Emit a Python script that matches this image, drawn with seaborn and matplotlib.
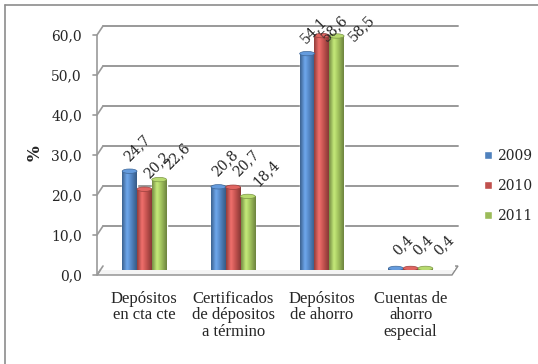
import numpy as np
import pandas as pd
import matplotlib
matplotlib.use('Agg')
import matplotlib.pyplot as plt
import matplotlib.transforms as mtrans
from matplotlib.colors import LinearSegmentedColormap, to_rgb
from matplotlib.patches import Polygon, Ellipse
from matplotlib.lines import Line2D
import seaborn as sns

sns.set_style('white')
plt.rcParams['font.family'] = ['DejaVu Serif']

# data
categories = ['Depósitos\nen cta cte', 'Certificados\nde dépositos\na término',
              'Depósitos\nde ahorro', 'Cuentas de\nahorro\nespecial']
years = ['2009', '2010', '2011']
vals_2009 = [24.7, 20.8, 54.1, 0.4]
vals_2010 = [20.2, 20.7, 58.6, 0.4]
vals_2011 = [22.6, 18.4, 58.5, 0.4]
colors = ['#4F81BD', '#C0504D', '#9BBB59']
yticks = [0, 10, 20, 30, 40, 50, 60]

df = pd.DataFrame({
    'cat': categories * 3,
    'year': [y for y in years for _ in categories],
    'val': vals_2009 + vals_2010 + vals_2011,
})

W, H = 538, 364
fig = plt.figure(figsize=(W / 100, H / 100), dpi=100)
# axes = middle depth of the 3d box (bars live here)
ax = fig.add_axes([100 / W, (H - 270) / H, 355 / W, 240 / H])

sns.barplot(data=df, x='cat', y='val', hue='year', palette=colors,
            width=0.5, gap=0, saturation=1, ax=ax, legend=True, zorder=3)
ax.set_xlim(-0.5, 3.5)
ax.set_ylim(0, 60)
for s in ax.spines.values():
    s.set_visible(False)
ax.set_xlabel('')
ax.set_ylabel('')

px = 1 / 100  # one pixel in inches
back = mtrans.ScaledTranslation(3 * px, 4 * px, fig.dpi_scale_trans)
grid_col = '#999999'

# back wall gridlines + slanted ticks on the side wall
for t in yticks[1:]:
    ax.plot([-0.5, 3.5], [t, t], color=grid_col, lw=1.4,
            transform=ax.transData + back, clip_on=False, zorder=1)
for t in yticks:
    x0, y0 = ax.transData.transform((-0.5, t))
    p_front = (x0 - 3, y0 - 5)
    p_back = (x0 + 3, y0 + 4)
    fig.add_artist(Line2D([p_front[0] - 4, p_front[0], p_back[0]],
                          [p_front[1], p_front[1], p_back[1]],
                          transform=None, color=grid_col, lw=1.2))
# vertical axis line at the front
xa, ya0 = ax.transData.transform((-0.5, 0))
_, ya1 = ax.transData.transform((-0.5, 60))
fig.add_artist(Line2D([xa - 3, xa - 3], [ya0 - 5, ya1 - 5], transform=None,
                      color=grid_col, lw=1.2))

# floor
xl, yb = ax.transData.transform((-0.5, 0))
xr, _ = ax.transData.transform((3.5, 0))
floor = Polygon([(xl - 3, yb - 5), (xl + 3, yb + 4), (xr + 3, yb + 4), (xr - 3, yb - 5)],
                closed=True, transform=None, facecolor='#f4f4f4',
                edgecolor='#8a8a8a', lw=1.0, zorder=0)
fig.add_artist(floor)

# cylinder shading on every bar
for cont, c in zip(ax.containers, colors):
    base = np.array(to_rgb(c))
    cmap = LinearSegmentedColormap.from_list(
        'cyl', [base * 0.75, np.minimum(base * 1.15 + 0.08, 1), base, base * 0.7])
    grad = np.linspace(0, 1, 64).reshape(1, -1)
    for bar in cont:
        x, w, h = bar.get_x(), bar.get_width(), bar.get_height()
        im = ax.imshow(grad, extent=[x, x + w, 0, h], aspect='auto', cmap=cmap,
                       zorder=4, interpolation='bicubic')
        im.set_clip_path(bar)
        cap = Ellipse((x + w / 2, h), w, 1.1, facecolor=np.minimum(base * 1.1 + 0.05, 1),
                      edgecolor=base * 0.8, lw=0.5, zorder=5)
        ax.add_patch(cap)
ax.set_xlim(-0.5, 3.5)
ax.set_ylim(0, 60)

# data labels, rotated like the original (pushed down/right near the top edge)
for i, cont in enumerate(ax.containers):
    for bar, v in zip(cont, cont.datavalues):
        xc = bar.get_x() + bar.get_width() / 2
        yl = min(v, 54.5)
        dx = 5 + 4 * i if v < 54.5 else 9 * i
        ax.annotate(f'{v:.1f}'.replace('.', ','), (xc, yl),
                    xytext=(dx, 17), textcoords='offset points',
                    rotation=45, ha='center', va='center', fontsize=10,
                    annotation_clip=False, zorder=6)

# ticks
ax.set_yticks(yticks)
ax.set_yticklabels([f'{t:.1f}'.replace('.', ',') for t in yticks], fontsize=10)
ax.tick_params(axis='y', length=0, pad=13)
shift = mtrans.ScaledTranslation(0, -5 * px, fig.dpi_scale_trans)
for lab in ax.get_yticklabels():
    lab.set_transform(lab.get_transform() + shift)
ax.tick_params(axis='x', length=0, pad=15)
for lab in ax.get_xticklabels():
    lab.set_fontfamily('Liberation Serif')
    lab.set_fontsize(12)
    lab.set_linespacing(1.05)
    lab.set_verticalalignment('top')
ax.grid(False)

fig.text(35 / W, (H - 153) / H, '%', rotation=90, ha='center', va='center',
         fontsize=12, fontweight='bold')

# legend
ax.legend(loc='center left', bbox_to_anchor=(484 / W, (H - 186) / H),
          bbox_transform=fig.transFigure, frameon=False, fontsize=10,
          handlelength=0.55, handleheight=0.55, handletextpad=0.4,
          labelspacing=1.15, borderpad=0, borderaxespad=0)

# outer frame of the original picture (only left and top are visible)
fig.add_artist(Line2D([5, 5], [0, H - 5], transform=None, color='#8c8c8c', lw=1.2))
fig.add_artist(Line2D([5, W], [H - 5, H - 5], transform=None, color='#8c8c8c', lw=1.2))

fig.savefig('out.png', dpi=100)
